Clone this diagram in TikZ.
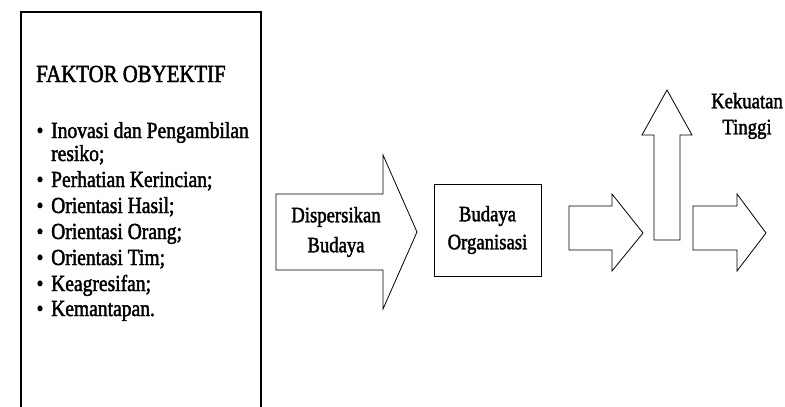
\documentclass[tikz,border=0pt]{standalone}
\usepackage{fontspec}
\setmainfont[FakeStretch=0.85,FakeBold=1.8]{Liberation Serif}
\begin{document}
\begin{tikzpicture}[x=1pt,y=-1pt, font=\fontsize{23}{26}\selectfont, line join=miter]
	\tikzset{blok/.style={draw, line width=0.8pt, fill=white},
		lbl/.style={align=center, inner sep=0pt, font=\fontsize{22}{28}\selectfont}}
	\useasboundingbox (0,0) rectangle (785,407);
	% kotak faktor obyektif
	\draw[line width=1.2pt] (21,407)--(21,12)--(261,12)--(261,407);
	\node[anchor=base west, inner sep=0pt, font=\fontsize{24.5}{26}\selectfont] (judul) at (36,82) {FAKTOR OBYEKTIF};
	\foreach \t/\y/\b in {Inovasi dan Pengambilan/138/1, resiko;/161/0, Perhatian Kerincian;/187/1,
		Orientasi Hasil;/213/1, Orientasi Orang;/239/1, Orientasi Tim;/265/1,
		Keagresifan;/291/1, Kemantapan./316/1}
	{\node[anchor=base west, inner sep=0pt] (it\y) at (51,\y) {\t};
	 \ifnum\b=1 \node[anchor=base, inner sep=0pt] at (40,\y) {\textbullet};\fi}
	% panah dispersikan budaya
	\coordinate (D1) at (276,194);
	\coordinate (D2) at (383,194);
	\coordinate (D3) at (383,155);
	\coordinate (D4) at (417,232);
	\coordinate (D5) at (383,309);
	\coordinate (D6) at (383,270);
	\coordinate (D7) at (276,270);
	\draw[blok] (D1)--(D2)--(D3)--(D4)--(D5)--(D6)--(D7)--cycle;
	\node[lbl, font=\fontsize{22}{30}\selectfont] (disp) at (336,232) {Dispersikan\\Budaya};
	% budaya organisasi
	\node[blok, lbl, minimum width=107pt, minimum height=92pt] (budaya) at (487.5,230) {Budaya\\Organisasi};
	% panah kanan
	\draw[blok] (569,206)--(612,206)--(612,194)--(643,233)--(612,271)--(612,250)--(569,250)--cycle;
	\draw[blok] (654,240)--(654,135)--(642,135)--(667,90)--(692,135)--(680,135)--(680,240)--cycle;
	\draw[blok] (693,206)--(737,206)--(737,194)--(766,233)--(737,271)--(737,250)--(693,250)--cycle;
	\node[lbl, font=\fontsize{22}{26}\selectfont] (kuat) at (747,116) {Kekuatan\\Tinggi};
\end{tikzpicture}
\end{document}
